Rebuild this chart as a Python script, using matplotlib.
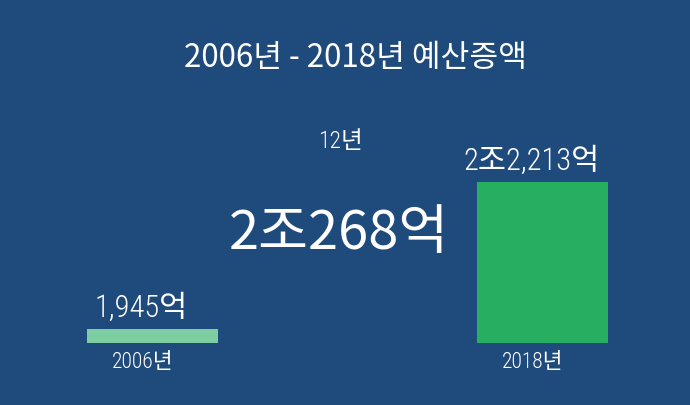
import matplotlib
matplotlib.use("Agg")
import matplotlib.pyplot as plt

years = ["2006년", "2018년"]
values = [1945, 22213]
value_labels = ["1,945억", "2조2,213억"]
period_label = "12년"
increase_label = "2조268억"
title = "2006년 - 2018년 예산증액"

BG = "#1f4a7c"
bar_colors = ["#7dcea0", "#27ae60"]
CJK = "Noto Sans CJK KR"
NARROW = ["Roboto Condensed", CJK, "DejaVu Sans"]

W, H = 690, 406
fig = plt.figure(figsize=(W / 100, H / 100), dpi=100, facecolor=BG)

# bar axes: x=0 centered at px 152.5, x=1 at px 542.5; baseline at px 344 from top
ax = fig.add_axes([0, 62 / H, 1, 161 / H])
ax.set_facecolor("none")
pos = list(range(len(values)))
ax.bar(pos, values, width=131 / 390, color=bar_colors)
ax.set_xlim(-152.5 / 390, (W - 152.5) / 390)
ax.set_ylim(0, max(values))
ax.axis("off")

for x, v, lab in zip(pos, values, value_labels):
    ax.annotate(lab, (x, v), xytext=(-8, 5), textcoords="offset points",
                ha="center", va="bottom", color="white", fontsize=22,
                family=NARROW, fontweight="light")
for x, y in zip(pos, years):
    ax.annotate(y, (x, 0), xytext=(-7, -6), textcoords="offset points",
                ha="center", va="top", color="white", fontsize=15.5,
                family=NARROW, fontweight="light")

fig.text(355 / W, 1 - 58 / H, title, ha="center", va="center",
         color="white", fontsize=22.5, family=[CJK, "DejaVu Sans"],
         fontweight="medium")
fig.text(340 / W, 1 - 141 / H, period_label, ha="center", va="center",
         color="white", fontsize=17, family=NARROW, fontweight="light")
fig.text(339 / W, 1 - 234 / H, increase_label, ha="center", va="center",
         color="white", fontsize=39, family=[CJK, "DejaVu Sans"])

fig.savefig("out.png", dpi=100, facecolor=BG)
